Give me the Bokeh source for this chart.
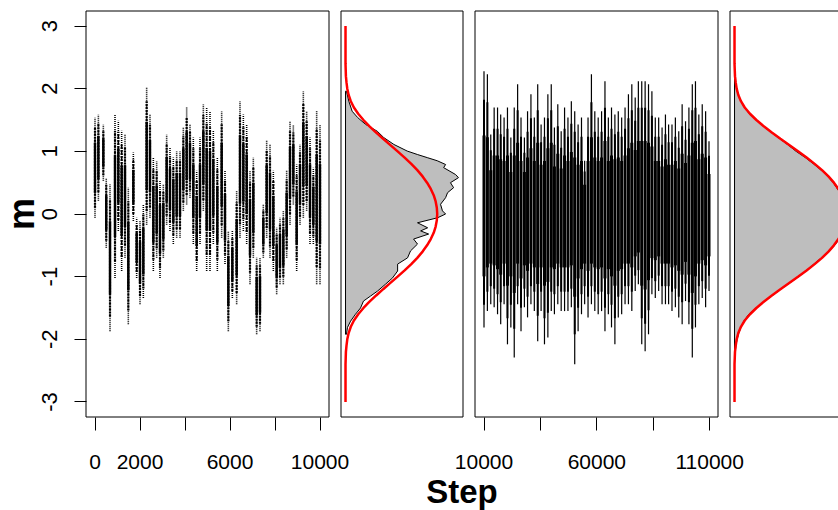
import numpy as np
from bokeh.plotting import figure
from bokeh.models import Range1d, LinearAxis, FixedTicker, Label
from bokeh.embed import file_html
from bokeh.resources import INLINE

# ---------------- data ----------------
y_ticks = [-3, -2, -1, 0, 1, 2, 3]
y_tick_labels = ["-3", "-2", "-1", "0", "1", "2", "3"]
p1_ticks = [0, 2000, 4000, 6000, 8000, 10000]
p1_tick_labels = ["0", "2000", "", "6000", "", "10000"]
p3_ticks = [10000, 35000, 60000, 85000, 110000]
p3_tick_labels = ["10000", "", "60000", "", "110000"]
y_title = "m"
x_title = "Step"

# burn-in trace (steps 0..10000): per-column low / high of the dotted streaks
p1_step = [0, 150, 370, 500, 667, 889, 1037, 1185, 1333, 1481, 1704, 1852, 2000, 2148,
           2296, 2444, 2593, 2741, 2889, 3037, 3185, 3333, 3481, 3630, 3778, 3926, 4074,
           4222, 4370, 4519, 4667, 4815, 4963, 5111, 5259, 5437, 5630, 5778, 5926, 6104,
           6296, 6444, 6593, 6741, 6889, 7037, 7185, 7333, 7481, 7630, 7778, 7926, 8074,
           8222, 8370, 8519, 8667, 8815, 8963, 9111, 9259, 9407, 9556, 9704, 9852, 10000]
p1_hi = [1.54, 1.59, 1.43, 0.58, 0.47, 1.59, 1.49, 1.33, 1.27, 0.42, 0.98, -0.06, -0.11,
         0.15, 2.02, 1.59, 0.90, 0.84, 0.53, 0.47, 1.27, 1.06, 0.90, 1.00, 1.00, 1.38, 1.70,
         1.43, 1.22, 0.69, 1.22, 1.75, 1.70, 1.64, 1.33, 0.90, 1.64, 0.69, -0.27, -0.27,
         0.37, 1.80, 1.59, 1.43, 0.69, 0.90, -0.70, -0.70, 0.15, 1.17, 1.11, 0.69, -0.22,
         -0.06, 0.05, 0.69, 1.49, 1.43, 0.79, 1.11, 1.96, 1.64, 1.22, 0.74, 1.64, 1.43]
p1_lo = [-0.06, 0.21, 0.53, -0.54, -1.87, -1.02, -0.27, -0.91, -0.70, -1.76, -0.11, -1.02,
         -1.44, -1.34, -0.17, -0.06, -0.91, -0.70, -1.02, -0.70, -0.17, -0.27, -0.48, -0.38,
         -0.38, 0.05, 0.15, 0.26, -0.48, -0.91, -0.48, 0.05, -0.91, -0.91, -0.48, -0.91,
         -0.38, -0.80, -1.87, -1.34, -1.44, -0.38, -0.27, -0.48, -1.12, -0.70, -1.92, -1.87,
         -0.70, -0.38, -0.70, -0.91, -1.28, -1.12, -1.12, -0.70, -0.17, 0.15, -0.91, -0.17,
         -0.06, 0.05, -0.48, -0.48, -1.12, -1.12]

# main trace (steps 10000..110000): per-column low / high
p3_step = [10000, 11500, 13000, 14500, 16000, 17400, 18900, 20400, 21900, 23400, 24900,
           26400, 27900, 29300, 30800, 32300, 33800, 35300, 36800, 38300, 39800, 41200,
           42700, 44200, 45700, 47200, 48700, 50200, 51700, 53200, 54600, 56100, 57600,
           59100, 60600, 62100, 63600, 65100, 66500, 68000, 69500, 71000, 72500, 74000,
           75500, 77000, 78400, 79900, 81400, 82900, 84400, 85900, 87400, 88900, 90400,
           91800, 93300, 94800, 96300, 97800, 99300, 100800, 102300, 103700, 105200,
           106700, 108200, 109700]
p3_hi = [2.28, 2.23, 1.27, 1.70, 1.70, 1.59, 1.54, 1.70, 1.22, 1.70, 2.07, 1.54, 1.22, 1.64,
         1.91, 1.54, 2.07, 1.43, 1.54, 1.91, 2.07, 1.38, 1.75, 1.32, 1.70, 1.54, 1.80, 1.64,
         1.43, 1.54, 0.85, 1.54, 2.23, 1.64, 1.54,
         1.64, 2.12, 1.54, 1.70, 1.59, 1.64, 1.54, 1.70, 1.91, 2.07, 1.86, 2.12, 2.12, 2.12,
         2.07, 1.96, 1.54, 1.54, 1.38, 1.59, 1.43, 1.43, 1.54, 1.32, 1.75, 1.48, 1.70, 2.07,
         2.12, 1.59, 1.75, 1.64, 1.16]
p3_lo = [-1.81, -1.55, -1.44, -1.49, -1.60, -1.76, -1.44, -2.08, -1.81, -2.29, -1.44, -1.87,
         -1.49, -1.65, -1.44, -1.55, -2.03, -1.55, -2.08, -1.97, -1.55, -1.60, -1.44, -1.55,
         -1.55, -1.55, -1.49, -2.40, -1.87, -1.60, -1.44, -1.65, -1.44, -1.55, -1.60,
         -1.55, -1.87, -1.60, -1.81, -2.08, -1.65, -1.60, -1.44, -1.44, -1.55, -1.23, -1.12,
         -2.08, -2.19, -1.92, -1.28, -1.34, -1.23, -1.44, -1.44, -1.44, -1.55, -1.49, -1.65,
         -1.76, -1.39, -1.76, -2.29, -1.81, -1.44, -1.34, -1.49, -1.23]

# histogram outline of the burn-in part (m, density)
h2_m = [-1.92, -1.81, -1.71, -1.60, -1.50, -1.39, -1.31, -1.23, -1.12, -1.02, -0.91, -0.80,
        -0.70, -0.59, -0.48, -0.40, -0.32, -0.27, -0.22, -0.14, -0.06, 0.00, 0.05, 0.155,
        0.26, 0.34, 0.42, 0.50, 0.58, 0.63, 0.74, 0.79, 0.85, 0.90, 0.95, 1.005, 1.11, 1.22,
        1.32, 1.43, 1.54, 1.64, 1.80, 1.96]
h2_d = [0.005, 0.010, 0.026, 0.051, 0.077, 0.092, 0.128, 0.164, 0.205, 0.241, 0.267, 0.267,
        0.318, 0.333, 0.369, 0.349, 0.426, 0.385, 0.421, 0.369, 0.472, 0.513, 0.497, 0.487,
        0.513, 0.523, 0.554, 0.538, 0.579, 0.564, 0.503, 0.513, 0.470, 0.419, 0.368, 0.316,
        0.248, 0.196, 0.163, 0.103, 0.062, 0.034, 0.017, 0.005]

# histogram outline of the main part (m from -2.2 to 2.2 by 0.1)
h4_m = np.round(np.linspace(-2.2, 2.2, 45), 1)
h4_d = [0.003, 0.006, 0.011, 0.018, 0.028, 0.041, 0.060, 0.090, 0.124, 0.160, 0.195, 0.232,
        0.270, 0.305, 0.333, 0.365, 0.397, 0.421, 0.441, 0.456, 0.463, 0.470, 0.475, 0.469,
        0.460, 0.450, 0.433, 0.415, 0.392, 0.364, 0.332, 0.298, 0.259, 0.226, 0.191, 0.155,
        0.121, 0.091, 0.062, 0.042, 0.027, 0.016, 0.009, 0.004, 0.002]

# red reference density (m from -3 to 3 by 0.1)
red_m = np.round(np.linspace(-3.0, 3.0, 61), 1)
red_d = [0, 0, 0, 0, 0, 0, 0, 0.001, 0.002, 0.005, 0.009, 0.016, 0.027, 0.043, 0.065, 0.092,
         0.123, 0.157, 0.193, 0.230, 0.267, 0.303, 0.337, 0.368, 0.395, 0.418, 0.437, 0.452,
         0.462, 0.468, 0.470, 0.468, 0.462, 0.452, 0.437, 0.418, 0.395, 0.368, 0.337, 0.303,
         0.267, 0.230, 0.193, 0.157, 0.123, 0.092, 0.065, 0.043, 0.027, 0.016, 0.009, 0.005,
         0.002, 0.001, 0, 0, 0, 0, 0, 0, 0]

# ---------------- layout (pixels) ----------------
W, H = 838, 510
FL, FR, FT, FB = 0, 838, 0, 510             # frame = whole canvas
PY = (10.5, 416.5)                          # panel top / bottom
PX = {"p1": (85.5, 328.5), "p2": (340.5, 462.5), "p3": (474.5, 717.5), "p4": (729.5, 851.5)}
M_X, STEP_X, STEP_Y = 21, 461.5, 491        # title anchors (px)


def ext(lo, hi):
    d = (hi - lo) * 0.04
    return lo - d, hi + d


ylim = ext(-3, 3)
xlim = {"p1": ext(min(p1_step), max(p1_step)),
        "p2": ext(0, max(h2_d)),
        "p3": ext(min(p3_step), max(p3_step)),
        "p4": ext(0, max(h4_d))}


def xrange_for(name):
    lo, hi = xlim[name]
    a, b = PX[name]
    s = (hi - lo) / (b - a)
    return Range1d(lo - (a - FL) * s, hi + (FR - b) * s)


ys = (ylim[1] - ylim[0]) / (PY[1] - PY[0])
yr = Range1d(ylim[0] - (FB - PY[1]) * ys, ylim[1] + (PY[0] - FT) * ys)
ranges = {n: xrange_for(n) for n in ("p1", "p2", "p3", "p4")}
xs1 = (ranges["p1"].end - ranges["p1"].start) / (FR - FL)


def px_to_x(px):
    return ranges["p1"].start + (px - FL) * xs1


def px_to_y(py):
    return yr.start + (FB - py) * ys


p = figure(width=W, height=H, output_backend="svg", toolbar_location=None, title=None,
           x_axis_location=None, y_axis_location=None,
           x_range=ranges["p1"], y_range=yr,
           min_border_left=0, min_border_right=0, min_border_top=0, min_border_bottom=0)
p.extra_x_ranges = {n: ranges[n] for n in ("p2", "p3", "p4")}
p.outline_line_color = None
p.xgrid.grid_line_color = None
p.ygrid.grid_line_color = None
p.background_fill_color = "white"
p.border_fill_color = "white"


def rn(name):
    return "default" if name == "p1" else name


# panel boxes
for n in ("p1", "p2", "p3", "p4"):
    p.quad(left=[xlim[n][0]], right=[xlim[n][1]], bottom=[ylim[0]], top=[ylim[1]],
           fill_color=None, line_color="black", line_width=1, x_range_name=rn(n))

# burn-in trace (dotted fringe, denser middle, dense core)
lo1, hi1 = np.array(p1_lo), np.array(p1_hi)
mid1, half1 = (lo1 + hi1) / 2, (hi1 - lo1) / 2
p.segment(x0=p1_step, y0=lo1, x1=p1_step, y1=hi1, line_color="black", line_width=1.6,
          line_dash="1 1")
p.segment(x0=p1_step, y0=mid1 - 0.8 * half1, x1=p1_step, y1=mid1 + 0.8 * half1,
          line_color="black", line_width=2.2, line_dash="2 1")
p.segment(x0=p1_step, y0=mid1 - 0.5 * half1, x1=p1_step, y1=mid1 + 0.5 * half1,
          line_color="black", line_width=2.4)

# main trace
lo3, hi3 = np.array(p3_lo), np.array(p3_hi)
p.segment(x0=p3_step, y0=lo3, x1=p3_step, y1=hi3, line_color="black", line_width=1.2,
          x_range_name="p3")
p.segment(x0=p3_step, y0=0.8 * lo3, x1=p3_step, y1=0.8 * hi3, line_color="black",
          line_width=2.0, x_range_name="p3")
p.segment(x0=p3_step, y0=0.55 * lo3, x1=p3_step, y1=0.55 * hi3, line_color="black",
          line_width=3.0, x_range_name="p3")

# densities
for n, hm, hd in (("p2", h2_m, h2_d), ("p4", list(h4_m), h4_d)):
    p.patch(x=[0] + list(hd) + [0], y=[hm[0]] + list(hm) + [hm[-1]], x_range_name=n,
            fill_color="#bebebe", line_color="black", line_width=1)
    p.line(x=red_d, y=red_m, x_range_name=n, line_color="#ff0000", line_width=2.5)

FONT = "Liberation Sans"


def style(ax, size):
    ax.axis_line_color = None
    ax.major_tick_in = 0
    ax.major_tick_line_color = "black"
    ax.minor_tick_line_color = None
    ax.major_label_text_font = FONT
    ax.major_label_text_font_size = size
    ax.major_label_text_color = "black"


yax = LinearAxis(ticker=FixedTicker(ticks=y_ticks), fixed_location=xlim["p1"][0],
                 major_label_overrides={t: s for t, s in zip(y_ticks, y_tick_labels)})
style(yax, "22px")
yax.major_tick_out = 12
yax.major_label_orientation = "vertical"
yax.major_label_standoff = 17
p.add_layout(yax, "left")


# one bottom axis carries the ticks of both trace panels (panel-3 ticks placed
# through the panel-3 range onto the shared frame)
def to_main(v, name):
    r, m = ranges[name], ranges["p1"]
    return m.start + (v - r.start) * (m.end - m.start) / (r.end - r.start)


bt = list(p1_ticks) + [to_main(v, "p3") for v in p3_ticks]
bl = list(p1_tick_labels) + list(p3_tick_labels)
xax = LinearAxis(ticker=FixedTicker(ticks=bt), fixed_location=ylim[0],
                 major_label_overrides={t: s for t, s in zip(bt, bl)})
style(xax, "21px")
xax.major_tick_out = 13
xax.major_label_standoff = 25
p.add_layout(xax, "below")

# axis titles
p.add_layout(Label(x=px_to_x(M_X), y=(ylim[0] + ylim[1]) / 2,
                   text=y_title, angle=np.pi / 2, text_align="center",
                   text_baseline="alphabetic", text_font=FONT, text_font_style="bold",
                   text_font_size="36px", text_color="black"))
p.add_layout(Label(x=px_to_x(STEP_X), y=px_to_y(STEP_Y), text=x_title, text_align="center",
                   text_baseline="alphabetic", text_font=FONT, text_font_style="bold",
                   text_font_size="33px", text_color="black"))

open("out.html", "w").write(file_html(p, INLINE))
